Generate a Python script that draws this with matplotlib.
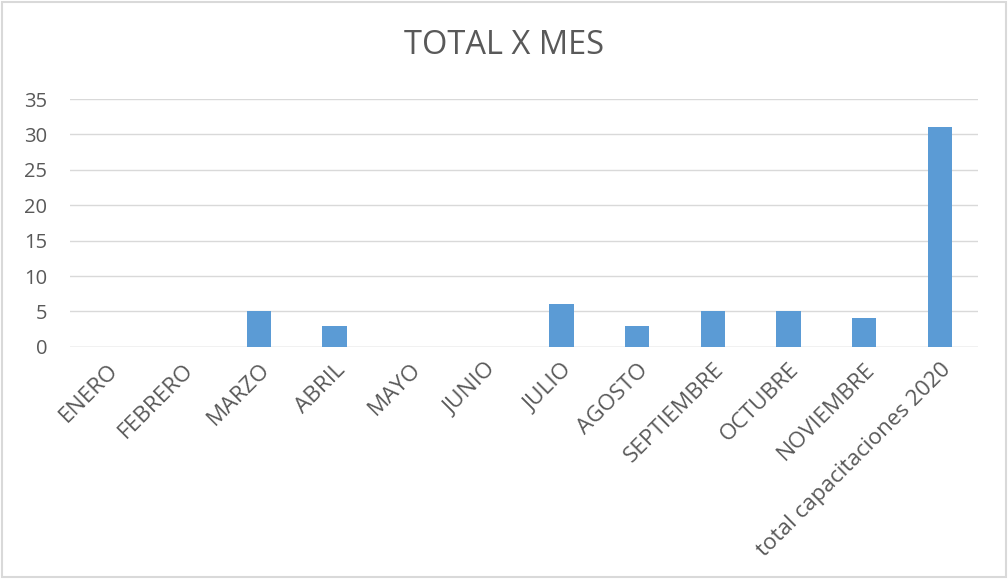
import matplotlib.pyplot as plt
from matplotlib.patches import Rectangle
import numpy as np

plt.rcParams["font.family"] = ["Open Sans", "DejaVu Sans"]

# data
meses = ["ENERO", "FEBRERO", "MARZO", "ABRIL", "MAYO", "JUNIO", "JULIO",
         "AGOSTO", "SEPTIEMBRE", "OCTUBRE", "NOVIEMBRE",
         "total capacitaciones 2020"]
valores = [0, 0, 5, 3, 0, 0, 6, 3, 5, 5, 4, 31]
yticks = [0, 5, 10, 15, 20, 25, 30, 35]

gris_texto = "#595959"
gris_linea = "#d9d9d9"
azul = "#5b9bd5"

fig = plt.figure(figsize=(10.08, 5.79), dpi=100)
ax = fig.add_axes([0.069, 0.401, 0.901, 0.428])

x = np.arange(len(meses))
ax.bar(x, valores, width=0.32, color=azul, zorder=3)

ax.set_xlim(-0.5, len(meses) - 0.5)
ax.set_ylim(0, 35)
ax.set_yticks(yticks)
ax.yaxis.grid(True, color=gris_linea, linewidth=1, zorder=0)
ax.tick_params(axis="y", length=0, pad=16, labelsize=14.5, labelcolor=gris_texto)
ax.tick_params(axis="x", length=0, pad=9, labelsize=16.2, labelcolor=gris_texto)
ax.set_xticks(x)
ax.set_xticklabels(meses, rotation=45, ha="right", rotation_mode="anchor")
for s in ax.spines.values():
    s.set_visible(False)
ax.axhline(0, color=gris_linea, linewidth=1, zorder=2)

fig.text(0.5, 0.922, "TOTAL X MES", ha="center", va="center",
         fontsize=23.5, color=gris_texto)

# chart border
fig.patches.append(Rectangle((0.002, 0.003), 0.996, 0.994, transform=fig.transFigure,
                             fill=False, edgecolor=gris_linea, linewidth=1.5))

plt.savefig("out.png", dpi=100)
